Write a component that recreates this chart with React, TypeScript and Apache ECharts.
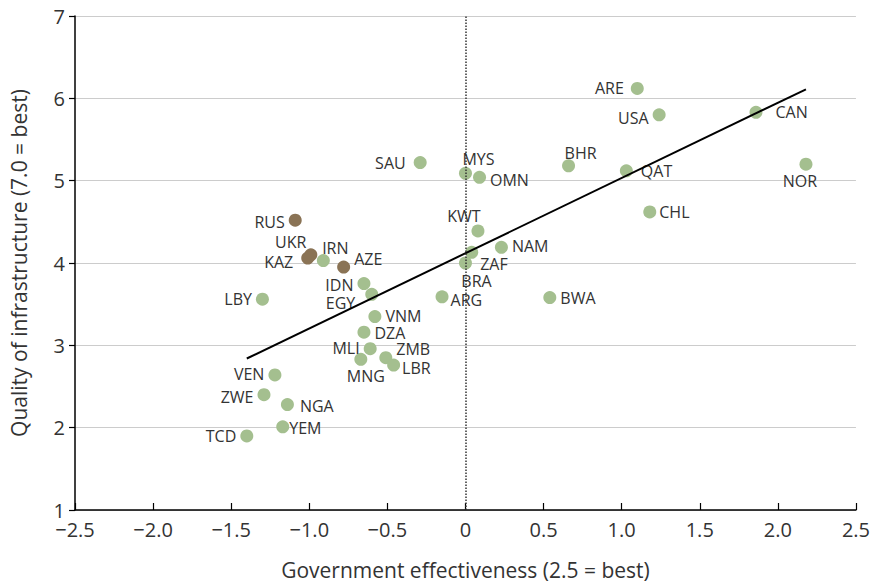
import React, { useEffect, useRef } from "react";
import * as echarts from "echarts";

const countries = ["ARE","USA","CAN","BHR","QAT","NOR","CHL","SAU","MYS","OMN","KWT","NAM","ZAF","BRA","RUS","UKR","KAZ","IRN","AZE","IDN","EGY","ARG","BWA","VNM","DZA","MLI","ZMB","LBR","MNG","NGA","YEM","LBY","VEN","ZWE","TCD"];
const govEffectiveness = [1.10,1.24,1.86,0.66,1.03,2.18,1.18,-0.29,0.00,0.09,0.08,0.23,0.04,0.00,-1.09,-0.99,-1.01,-0.91,-0.78,-0.65,-0.60,-0.15,0.54,-0.58,-0.65,-0.61,-0.51,-0.46,-0.67,-1.14,-1.17,-1.30,-1.22,-1.29,-1.40];
const infrastructure = [6.12,5.80,5.83,5.18,5.12,5.20,4.62,5.22,5.09,5.04,4.39,4.19,4.13,4.00,4.52,4.10,4.06,4.03,3.95,3.75,3.62,3.59,3.58,3.35,3.16,2.96,2.85,2.76,2.83,2.28,2.01,3.56,2.64,2.40,1.90];
const highlighted = ["RUS","UKR","KAZ","AZE"];
const trendX = [-1.40, 2.18];
const trendY = [2.84, 6.11];

// label placement: [position, dx, dy]
const labelPlacement: Record<string, [string, number, number]> = {
  ARE: ["left", -3, 0], USA: ["left", 0, 3], CAN: ["right", 9, 0], BHR: ["top", 12, 6],
  QAT: ["right", 4, 0], NOR: ["bottom", -6, -2], CHL: ["right", -1, 0], SAU: ["left", -4, 0],
  MYS: ["top", 13, 4], OMN: ["right", 0, 3], KWT: ["top", -14, 4], NAM: ["right", 0, -1],
  ZAF: ["right", -2, 12], BRA: ["bottom", 11, -1], RUS: ["left", 0, 2], UKR: ["left", 6, -13],
  KAZ: ["left", -4, 4], IRN: ["top", 12, 6], AZE: ["right", 0, -8], IDN: ["left", 0, 1],
  EGY: ["left", -6, 9], ARG: ["right", -2, 3], BWA: ["right", 0, 0], VNM: ["right", 0, -1],
  DZA: ["right", 0, 1], MLI: ["left", 0, -1], ZMB: ["right", 0, -9], LBR: ["right", -2, 3],
  MNG: ["bottom", 5, -2], NGA: ["right", 2, 1], YEM: ["right", -4, 1], LBY: ["left", 0, 0],
  VEN: ["left", 0, -1], ZWE: ["left", 0, 2], TCD: ["left", 0, 0],
};

const GREEN = "#a4bf8f";
const BROWN = "#8a7355";
const TEXT = "#333333";
const FONT = "Open Sans";

function makePoints(brown: boolean) {
  return countries
    .map((c, i) => ({ c, i }))
    .filter(({ c }) => highlighted.includes(c) === brown)
    .map(({ c, i }) => {
      const [pos, dx, dy] = labelPlacement[c];
      return {
        name: c,
        value: [govEffectiveness[i], infrastructure[i]],
        label: { show: true, position: pos, offset: [dx, dy], distance: 4 },
      };
    });
}

const fmtX = (v: number) => (v === 0 ? "0" : v.toFixed(1).replace("-", "\u2212"));

export default function App() {
  const ref = useRef<HTMLDivElement>(null);
  useEffect(() => {
    document.body.style.margin = "0";
    const chart = echarts.init(ref.current!, undefined, { renderer: "svg" });
    const labelCommon = {
      formatter: (p: any) => p.name,
      color: TEXT,
      fontFamily: FONT,
      fontSize: 16,
    };
    chart.setOption({
      animation: false,
      grid: { left: 74, right: 17, top: 16, bottom: 77, containLabel: false },
      xAxis: {
        type: "value",
        min: -2.5,
        max: 2.5,
        interval: 0.5,
        name: "Government effectiveness (2.5 = best)",
        nameLocation: "middle",
        nameGap: 49,
        nameTextStyle: { color: TEXT, fontFamily: FONT, fontSize: 21 },
        axisLine: { show: true, onZero: false, lineStyle: { color: "#000", width: 1.5 } },
        axisTick: { show: true, inside: true, length: 7, lineStyle: { color: "#000", width: 1.2 } },
        axisLabel: { color: TEXT, fontFamily: FONT, fontSize: 20, margin: 9, formatter: fmtX },
        splitLine: { show: false },
      },
      yAxis: {
        type: "value",
        min: 1,
        max: 7,
        interval: 1,
        name: "Quality of infrastructure (7.0 = best)",
        nameLocation: "middle",
        nameGap: 46,
        nameTextStyle: { color: TEXT, fontFamily: FONT, fontSize: 21 },
        axisLine: { show: true, onZero: false, lineStyle: { color: "#000", width: 1.5 } },
        axisTick: { show: true, inside: false, length: 6, lineStyle: { color: "#000", width: 1.2 } },
        axisLabel: { color: TEXT, fontFamily: FONT, fontSize: 20, margin: 10 },
        splitLine: { show: true, lineStyle: { color: "#cccccc", width: 1.2 } },
      },
      series: [
        {
          type: "scatter",
          symbolSize: 13,
          itemStyle: { color: GREEN, opacity: 1 },
          label: labelCommon,
          data: makePoints(false),
          z: 2,
        },
        {
          type: "scatter",
          symbolSize: 13,
          itemStyle: { color: BROWN, opacity: 1 },
          label: labelCommon,
          data: makePoints(true),
          z: 3,
        },
        {
          type: "line",
          data: trendX.map((x, i) => [x, trendY[i]]),
          symbol: "none",
          lineStyle: { color: "#000", width: 2 },
          z: 4,
          silent: true,
          markLine: {
            silent: true,
            symbol: "none",
            label: { show: false },
            lineStyle: { color: "#333", type: "dotted", width: 1.5 },
            data: [{ xAxis: 0 }],
          },
        },
      ],
    });
    return () => chart.dispose();
  }, []);
  return <div ref={ref} style={{ width: 873, height: 587 }} />;
}
